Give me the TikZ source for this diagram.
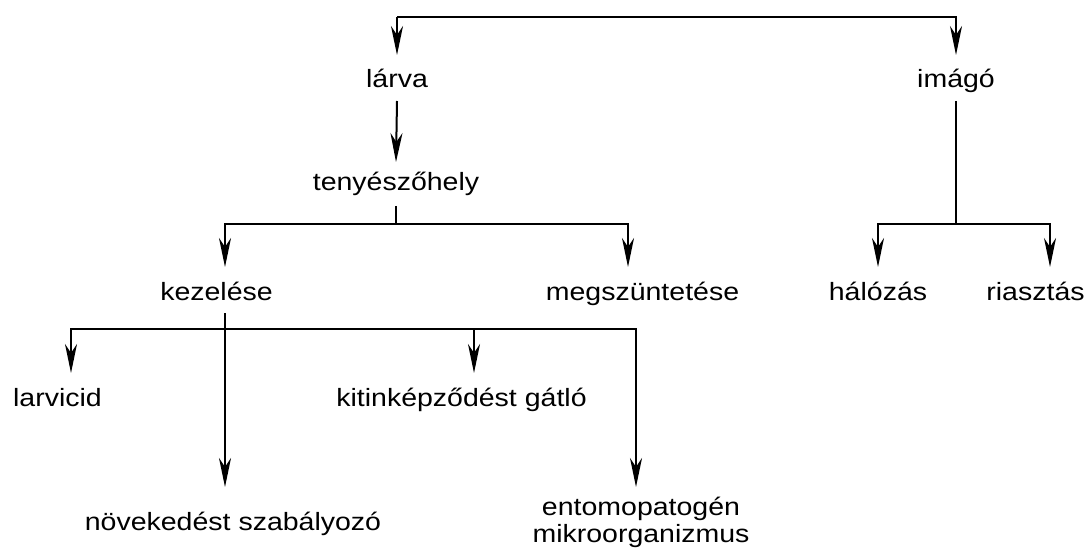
\documentclass[tikz,border=0pt]{standalone}
\usepackage{fontspec}
\setmainfont{Liberation Sans}[FakeStretch=1.14]
\usetikzlibrary{arrows.meta}

\tikzset{
	lbl/.style={anchor=base, inner xsep=0pt, inner ysep=12pt, text height=20pt, text depth=0pt, font=\fontsize{25}{27}\selectfont},
	arr/.style={-{Stealth[length=29pt, width=12pt, inset=9pt]}},
}

\begin{document}
\begin{tikzpicture}[
		x=1pt, y=-1pt,
		line width=2pt,
	]
		\useasboundingbox (0,0) rectangle (1089,548);
		\node [lbl] (larva) at (397,88) {lárva};
		\node [lbl] (imago) at (956,88) {imágó};
		\node [lbl, text height=15pt, text depth=3pt] (tenyesz) at (396,190) {tenyészőhely};
		\node [lbl] (kezeles) at (216.5,300) {kezelése};
		\node [lbl] (megszunt) at (642.5,300) {megszüntetése};
		\node [lbl] (halozas) at (878,300) {hálózás};
		\node [lbl] (riasztas) at (1035.5,300) {riasztás};
		\node [lbl] (larvicid) at (57.5,406) {larvicid};
		\node [lbl] (kitin) at (461.5,406) {kitinképződést gátló};
		\node [lbl, text height=30pt] (novekedes) at (233,530) {növekedést szabályozó};
		\node [lbl, text height=42pt, align=center] (entomo) at (641,542) {entomopatogén\\mikroorganizmus};
		
		\coordinate (top) at (397,17);
		\draw [arr] (top) -- (larva.north);
		\draw [arr] (top) -| (imago.north);
		\draw [arr] (larva.south) -- (tenyesz.north);
		
		\draw (tenyesz.south) -- (tenyesz.south |- 0,224) coordinate (tbus);
		\draw [arr] (tbus) -| ([xshift=8.5pt]kezeles.north);
		\draw [arr] (tbus) -| ([xshift=-14.5pt]megszunt.north);
		
		\draw (imago.south) -- (imago.south |- 0,224) coordinate (ibus);
		\draw [arr] (ibus) -| (halozas.north);
		\draw [arr] (ibus) -| ([xshift=14.5pt]riasztas.north);
		
		\draw [arr] ([xshift=8.5pt]kezeles.south) -- ([xshift=8.5pt]kezeles.south |- novekedes.north);
		\coordinate (kbus) at ([xshift=8.5pt]kezeles.south |- 0,329);
		\draw [arr] (kbus) -| ([xshift=13.5pt]larvicid.north);
		\draw [arr] (kbus) -| ([xshift=12.5pt]kitin.north);
		\draw [arr] (kbus) -| ([xshift=-5pt]entomo.north);
	\end{tikzpicture}
\end{document}
